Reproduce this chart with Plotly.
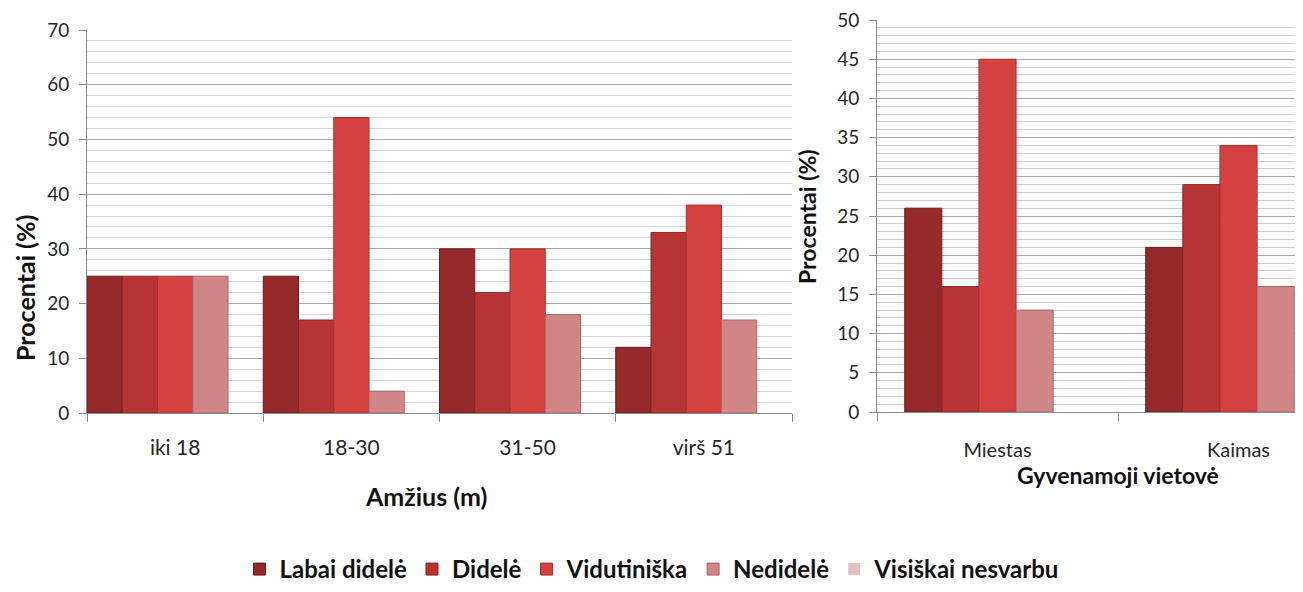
import plotly.graph_objects as go

# ---- data ----
series = ["Labai didelė", "Didelė", "Vidutiniška", "Nedidelė", "Visiškai nesvarbu"]
colors = ["#962a2a", "#b83434", "#d34141", "#d08686", "#e6c0c0"]
edge_colors = ["#6e1c1c", "#8a2525", "#a83030", "#a86666", "#c9a0a0"]

age_groups = ["iki 18", "18-30", "31-50", "virš 51"]
age_values = [
    [25, 25, 30, 12],   # Labai didelė
    [25, 17, 22, 33],   # Didelė
    [25, 54, 30, 38],   # Vidutiniška
    [25, 4, 18, 17],    # Nedidelė
    [0, 0, 0, 0],       # Visiškai nesvarbu
]

places = ["Miestas", "Kaimas"]
place_values = [
    [26, 21],
    [16, 29],
    [45, 34],
    [13, 16],
    [0, 0],
]

# page body has an 8px default margin; lay out in screen pixels and shift
OFF = 8
W, H = 1303 - OFF, 592 - OFF
FONT = "Lato"

fig = go.Figure()

n = len(series)
left_w = 1.0 / n
right_gap = 0.23
right_w = (1 - right_gap) / n

for i, name in enumerate(series):
    lw = 0 if i == n - 1 else 1
    fig.add_trace(go.Bar(
        x=age_groups, y=age_values[i], name=name,
        marker=dict(color=colors[i], line=dict(color=edge_colors[i], width=lw)),
        width=left_w, offset=-0.5 + left_w * i,
        xaxis="x", yaxis="y", showlegend=True, legendgroup=name,
    ))
for i, name in enumerate(series):
    lw = 0 if i == n - 1 else 1
    fig.add_trace(go.Bar(
        x=places, y=place_values[i], name=name,
        marker=dict(color=colors[i], line=dict(color=edge_colors[i], width=lw)),
        width=right_w, offset=-0.5 + right_gap / 2 + right_w * i,
        xaxis="x2", yaxis="y2", showlegend=False, legendgroup=name,
    ))

def px_x(p):
    return (p - OFF) / W

def px_y(p):
    return 1 - (p - OFF) / H

# screen pixels: left plot x 87..792, y 30..413 ; right plot x 877..(1359, clipped at 1303), y 20..412
L0, L1 = 87, 792
R0, RFULL = 877, 1359
R1 = OFF + W
rng_max = -0.5 + 2 * (R1 - R0) / (RFULL - R0)

line_common = dict(showline=True, linecolor="#8c8c8c", linewidth=1, automargin=False)
tick_col = "#262626"

fig.update_layout(
    width=W, height=H,
    margin=dict(l=0, r=0, t=0, b=0),
    paper_bgcolor="white", plot_bgcolor="white",
    barmode="overlay",
    font=dict(family=FONT, color="#222222"),
    xaxis=dict(
        domain=[px_x(L0), px_x(L1)], anchor="y", type="category",
        categoryorder="array", categoryarray=age_groups,
        range=[-0.5, len(age_groups) - 0.5],
        tickson="boundaries", ticks="outside", ticklen=8, tickcolor="#8c8c8c",
        showgrid=False, ticklabelstandoff=16, ticklabeloverflow="allow",
        tickfont=dict(family=FONT, size=21, color=tick_col), **line_common,
    ),
    yaxis=dict(
        domain=[px_y(413), px_y(30)], anchor="x",
        range=[0, 70], dtick=10, ticks="outside", ticklen=7, tickcolor="#8c8c8c",
        showgrid=True, gridcolor="#a8a8a8", gridwidth=1,
        minor=dict(dtick=2, showgrid=True, gridcolor="#d6d6d6", gridwidth=1),
        zeroline=False, ticklabelstandoff=6, ticklabeloverflow="allow",
        tickfont=dict(family=FONT, size=19, color=tick_col), **line_common,
    ),
    xaxis2=dict(
        domain=[px_x(R0), 1.0], anchor="y2", type="category",
        categoryorder="array", categoryarray=places,
        range=[-0.5, rng_max],
        tickson="boundaries", ticks="outside", ticklen=8, tickcolor="#8c8c8c",
        showgrid=False, ticklabelstandoff=20, ticklabeloverflow="allow",
        tickfont=dict(family=FONT, size=20, color=tick_col), **line_common,
    ),
    yaxis2=dict(
        domain=[px_y(412), px_y(20)], anchor="x2",
        range=[0, 50], dtick=5, ticks="outside", ticklen=7, tickcolor="#8c8c8c",
        showgrid=True, gridcolor="#a8a8a8", gridwidth=1,
        minor=dict(dtick=1, showgrid=True, gridcolor="#cccccc", gridwidth=1),
        zeroline=False, ticklabelstandoff=6, ticklabeloverflow="allow",
        tickfont=dict(family=FONT, size=19, color=tick_col), **line_common,
    ),
    legend=dict(
        orientation="h", x=px_x(652), xanchor="center", y=0, yanchor="bottom",
        font=dict(family=FONT, size=24, color="#111111", weight="bold"),
        itemwidth=30, tracegroupgap=0,
    ),
)

def title(text, x, y, size, angle=0):
    fig.add_annotation(text=text, textangle=angle, x=px_x(x), y=px_y(y),
                       xref="paper", yref="paper", showarrow=False,
                       font=dict(family=FONT, size=size, color="#111111", weight="bold"),
                       xanchor="center", yanchor="middle")

title("Procentai (%)", 25, 288, 25, -90)
title("Procentai (%)", 807, 217, 23, -90)
title("Amžius (m)", 426, 496, 25)
title("Gyvenamoji vietovė", 1118, 475, 23)

fig.write_html("out.html")
